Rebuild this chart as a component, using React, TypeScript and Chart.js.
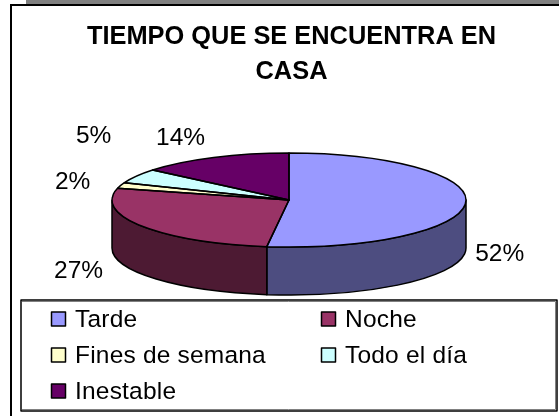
import React, { useEffect, useRef } from "react";
import { Chart, registerables } from "chart.js";

Chart.register(...registerables);

const categories = ["Tarde", "Noche", "Fines de semana", "Todo el día", "Inestable"];
const values = [52, 27, 2, 5, 14];
const faceColors = ["#9999FF", "#993366", "#FFFFCC", "#CCFFFF", "#660066"];
const wallColors = ["#4D4D80", "#4D1A33", "#808066", "#668080", "#330033"];
const titleLines = ["TIEMPO QUE SE ENCUENTRA EN", "CASA"];
const labelNudges = [[34, 51], [-64, 45], [-48, -3], [-43, -40], [-33, -19]];

const PIE = { cx: 289, cy: 200, rx: 177, ry: 47, depth: 48 };
const FONT = '"Liberation Sans", Arial, sans-serif';
const TEXT_SIZE = 24.5;

const pie3d = {
  id: "pie3d",
  beforeDraw(chart: any) {
    const { ctx } = chart;
    ctx.save();
    ctx.fillStyle = "#ffffff";
    ctx.fillRect(0, 0, 559, 416);
    ctx.fillStyle = "#808080";
    ctx.fillRect(26, 0, 533, 4);
    ctx.strokeStyle = "#000000";
    ctx.lineWidth = 2;
    ctx.beginPath();
    ctx.moveTo(11, 416);
    ctx.lineTo(11, 5);
    ctx.lineTo(559, 5);
    ctx.stroke();
    ctx.restore();
  },
  beforeDatasetsDraw(chart: any) {
    const { ctx } = chart;
    const arcs = chart.getDatasetMeta(0).data;
    const { cx, cy, rx, ry, depth } = PIE;
    ctx.save();
    ctx.lineWidth = 1.5;
    ctx.strokeStyle = "#000000";
    ctx.lineJoin = "round";
    arcs.forEach((arc: any, i: number) => {
      const a0 = Math.max(arc.startAngle, 0);
      const a1 = Math.min(arc.endAngle, Math.PI);
      if (a1 <= a0) return;
      ctx.beginPath();
      ctx.ellipse(cx, cy, rx, ry, 0, a0, a1);
      ctx.lineTo(cx + rx * Math.cos(a1), cy + depth + ry * Math.sin(a1));
      ctx.ellipse(cx, cy + depth, rx, ry, 0, a1, a0, true);
      ctx.closePath();
      ctx.fillStyle = wallColors[i];
      ctx.fill();
      ctx.stroke();
    });
    ctx.restore();
    const first = arcs[0];
    const R = first.outerRadius;
    ctx.save();
    ctx.translate(cx, cy);
    ctx.scale(rx / R, ry / R);
    ctx.translate(-first.x, -first.y);
  },
  afterDatasetsDraw(chart: any) {
    const { ctx } = chart;
    ctx.restore();
    const arcs = chart.getDatasetMeta(0).data;
    const { cx, cy, rx, ry } = PIE;
    ctx.save();
    ctx.lineWidth = 1.5;
    ctx.strokeStyle = "#000000";
    ctx.lineJoin = "round";
    arcs.forEach((arc: any) => {
      ctx.beginPath();
      ctx.moveTo(cx, cy);
      ctx.ellipse(cx, cy, rx, ry, 0, arc.startAngle, arc.endAngle);
      ctx.closePath();
      ctx.stroke();
    });
    // percentage labels, anchored on each slice's mid angle
    ctx.fillStyle = "#000000";
    ctx.font = `${TEXT_SIZE}px ${FONT}`;
    ctx.textAlign = "center";
    ctx.textBaseline = "middle";
    const total = values.reduce((a, b) => a + b, 0);
    arcs.forEach((arc: any, i: number) => {
      const mid = (arc.startAngle + arc.endAngle) / 2;
      const [dx, dy] = labelNudges[i];
      ctx.fillText(
        `${Math.round((values[i] / total) * 100)}%`,
        cx + rx * Math.cos(mid) + dx,
        cy + ry * Math.sin(mid) + dy
      );
    });
    // legend box
    ctx.fillStyle = "#ffffff";
    ctx.fillRect(21, 300, 536, 111);
    ctx.strokeStyle = "#808080";
    ctx.lineWidth = 1;
    ctx.beginPath();
    ctx.moveTo(22, 301.5);
    ctx.lineTo(555.5, 301.5);
    ctx.lineTo(555.5, 409.5);
    ctx.lineTo(22, 409.5);
    ctx.stroke();
    ctx.strokeStyle = "#000000";
    ctx.lineWidth = 1.5;
    ctx.beginPath();
    ctx.rect(21, 300, 536, 111);
    ctx.stroke();
    ctx.textAlign = "left";
    ctx.font = `${TEXT_SIZE}px ${FONT}`;
    ctx.letterSpacing = "0.2px";
    categories.forEach((name, i) => {
      const col = i % 2;
      const row = Math.floor(i / 2);
      const x = col === 0 ? 51.5 : 321.5;
      const y = 319 + row * 36;
      ctx.fillStyle = faceColors[i];
      ctx.strokeStyle = "#000000";
      ctx.lineWidth = 1.5;
      ctx.fillRect(x, y - 7, 14, 14);
      ctx.strokeRect(x, y - 7, 14, 14);
      ctx.fillStyle = "#000000";
      ctx.fillText(name, x + 23.5, y + 1);
    });
    ctx.restore();
  },
};

export default function App() {
  const ref = useRef<HTMLCanvasElement | null>(null);
  useEffect(() => {
    const chart = new Chart(ref.current as HTMLCanvasElement, {
      type: "pie",
      data: {
        labels: categories,
        datasets: [{ data: values, backgroundColor: faceColors, borderWidth: 0 }],
      },
      options: {
        responsive: false,
        animation: false,
        layout: { padding: { left: 24, top: 20 } },
        plugins: {
          legend: { display: false },
          tooltip: { enabled: false },
          title: {
            display: true,
            text: titleLines,
            color: "#000000",
            font: { family: FONT, size: 25.4, weight: "bold", lineHeight: 1.36 },
            padding: { top: 0, bottom: 0 },
            fullSize: false,
          },
        },
      },
      plugins: [pie3d],
    } as any);
    return () => chart.destroy();
  }, []);
  return (
    <div style={{ position: "fixed", left: 0, top: 0, width: 559, height: 416 }}>
      <canvas ref={ref} width={559} height={416} style={{ display: "block" }} />
    </div>
  );
}
